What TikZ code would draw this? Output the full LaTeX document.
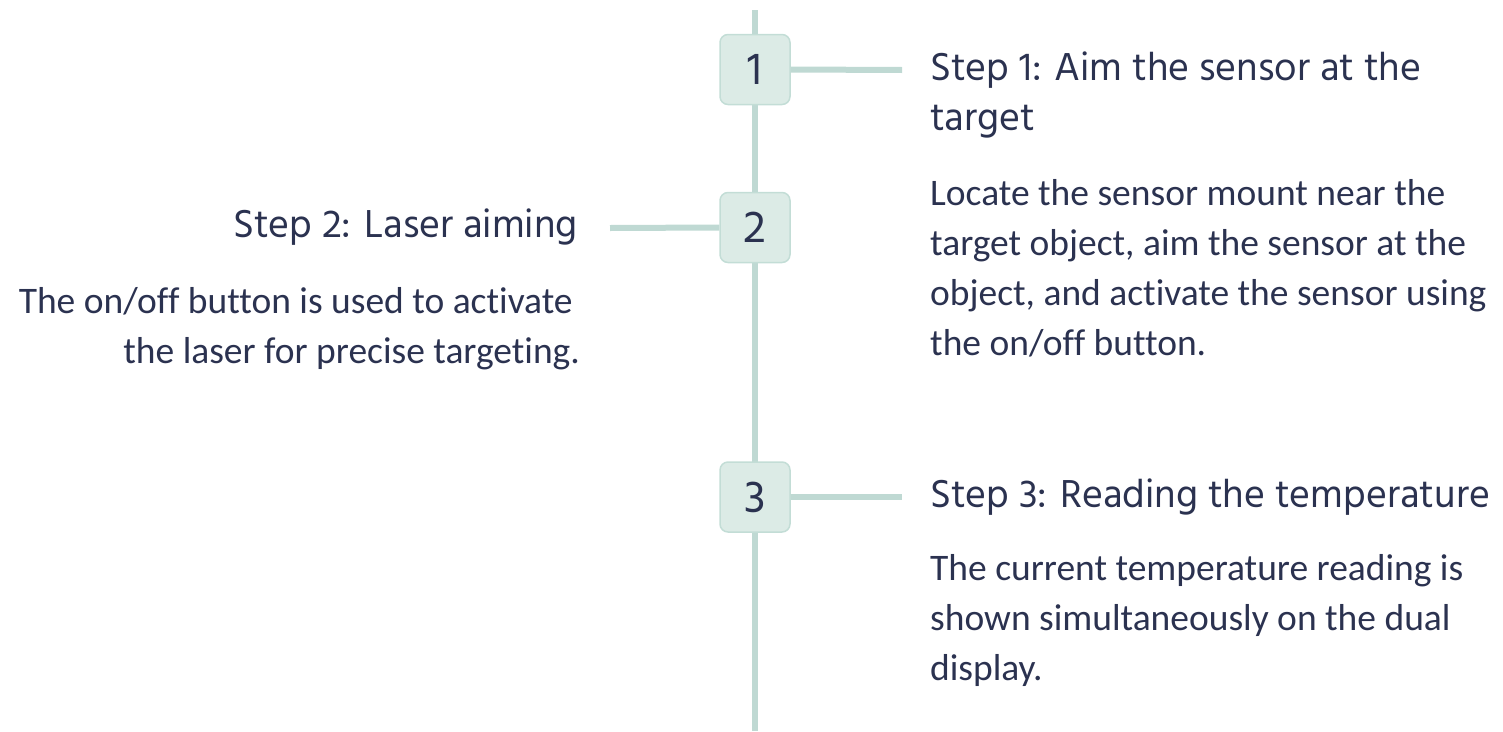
\documentclass[tikz,border=0pt]{standalone}
\usepackage{fontspec}
\newfontfamily\titlefont{Hind Madurai}
\newfontfamily\bodyfont[Ligatures={NoCommon}]{Carlito}
\definecolor{ink}{HTML}{2B3250}
\definecolor{rail}{HTML}{BFD9D3}
\definecolor{boxfill}{HTML}{DCEBE6}
\definecolor{boxline}{HTML}{C3DDD6}
\begin{document}
\begin{tikzpicture}[x=1pt,y=-1pt,
  numbox/.style={draw=boxline,line width=1.5pt,fill=boxfill,rounded corners=8pt,
    minimum width=70pt,minimum height=70pt,inner sep=0pt,text=ink,
    font=\titlefont\fontsize{46}{46}\selectfont},
  railline/.style={draw=rail,line width=6pt},
  titletext/.style={inner sep=0pt,text=ink,font=\titlefont\fontsize{40}{50}\selectfont},
  bodytext/.style={inner sep=0pt,text=ink,font=\bodyfont\fontsize{37.5}{50}\selectfont}]
\useasboundingbox (0,0) rectangle (1503,731);
\coordinate (top) at (755,10);
\coordinate (bot) at (755,731);
\coordinate (e1) at (902,70);
\coordinate (e2) at (610,228);
\coordinate (e3) at (902,497);
\draw[railline] (top) -- (bot);
\node[numbox] (b1) at (755,69.5) {1};
\node[numbox] (b2) at (755,227.5) {2};
\node[numbox] (b3) at (755,497) {3};
\draw[railline] (b1.east) -- (e1);
\draw[railline] (b2.west) -- (e2);
\draw[railline] (b3.east) -- (e3);
\node[titletext,anchor=base west,align=left] (t1) at (930,130) {Step 1: Aim the sensor at the\\target};
\node[bodytext,anchor=base west,align=left] (d1) at (930,355) {Locate the sensor mount near the\\target object, aim the sensor at the\\object, and activate the sensor using\\the on/off button.};
\node[titletext,anchor=base east,align=right] (t2) at (578,237) {Step 2: Laser aiming};
\node[bodytext,anchor=base east,align=right] (d2) at (580,363) {The on/off button is used to activate\hspace*{7pt}\\the laser for precise targeting.};
\node[titletext,anchor=base west,align=left] (t3) at (930,507) {Step 3: Reading the temperature};
\node[bodytext,anchor=base west,align=left] (d3) at (930,680) {The current temperature reading is\\shown simultaneously on the dual\\display.};
\end{tikzpicture}
\end{document}
